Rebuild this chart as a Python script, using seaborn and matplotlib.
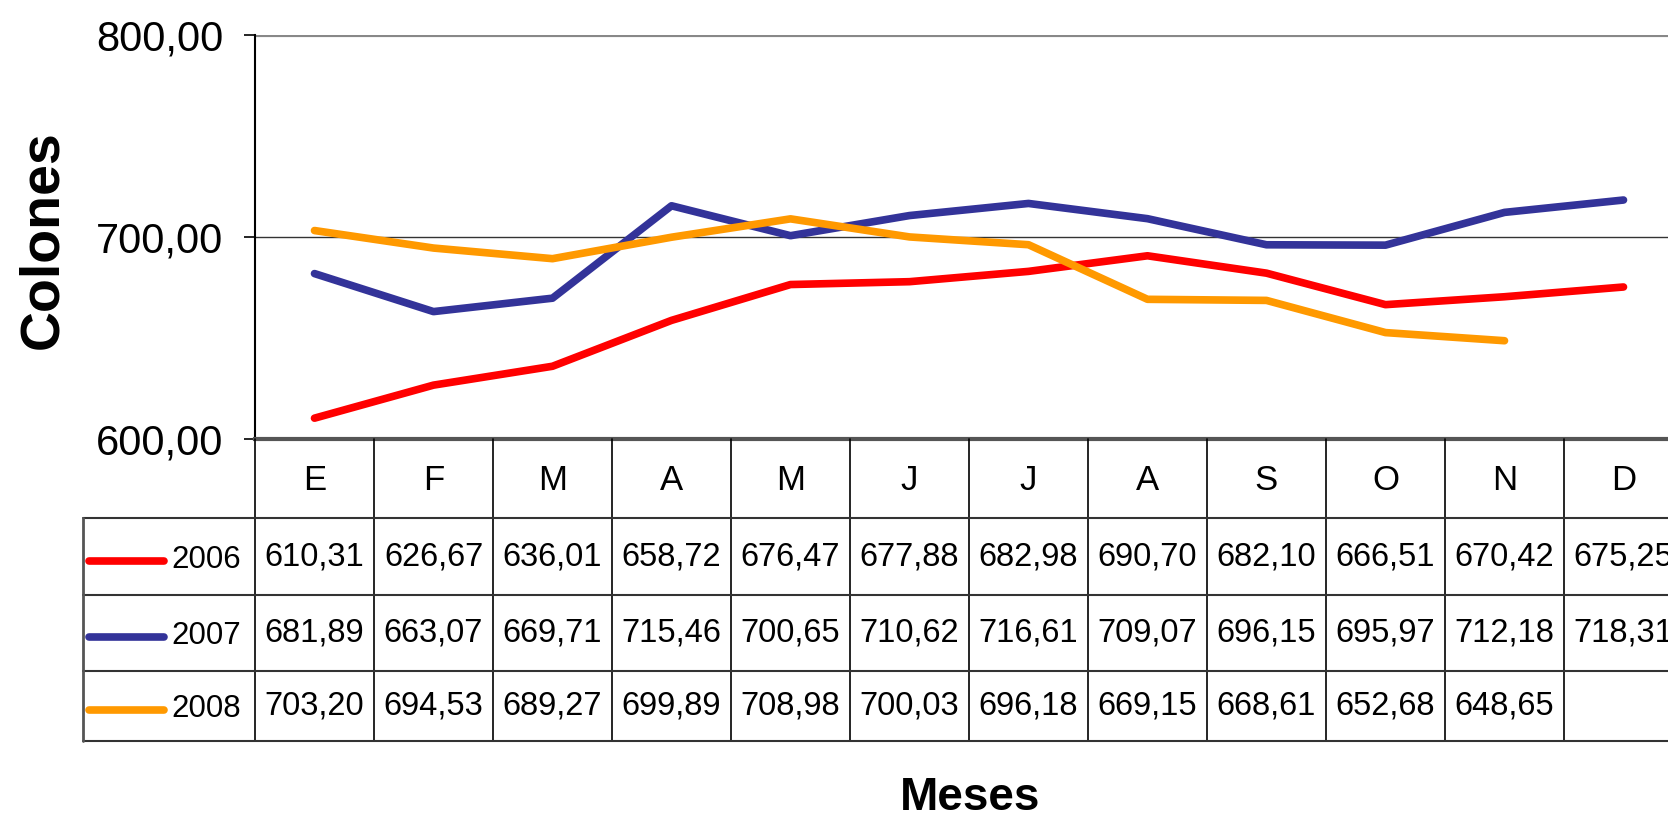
import pandas as pd
import matplotlib.pyplot as plt
import seaborn as sns

meses = ['E', 'F', 'M', 'A', 'M', 'J', 'J', 'A', 'S', 'O', 'N', 'D']
y2006 = [610.31, 626.67, 636.01, 658.72, 676.47, 677.88, 682.98, 690.70, 682.10, 666.51, 670.42, 675.25]
y2007 = [681.89, 663.07, 669.71, 715.46, 700.65, 710.62, 716.61, 709.07, 696.15, 695.97, 712.18, 718.31]
y2008 = [703.20, 694.53, 689.27, 699.89, 708.98, 700.03, 696.18, 669.15, 668.61, 652.68, 648.65, None]
years = ['2006', '2007', '2008']
colors = ['#FF0000', '#333399', '#FF9900']

rows = []
for yr, vals in zip(years, [y2006, y2007, y2008]):
    for i, v in enumerate(vals):
        if v is not None:
            rows.append({'pos': i, 'valor': v, 'anio': yr})
df = pd.DataFrame(rows)

sns.set_style('white')
plt.rcParams['font.family'] = ['Liberation Sans', 'DejaVu Sans']
plt.rcParams['text.color'] = 'black'

W, H = 1668, 821
fig = plt.figure(figsize=(W / 100, H / 100), dpi=100)

# main plot area (runs a bit past the right edge, like the original)
x0, x1, ytop, ybot = 255, 1683, 35, 439
ax = fig.add_axes([x0 / W, 1 - ybot / H, (x1 - x0) / W, (ybot - ytop) / H])
sns.lineplot(data=df, x='pos', y='valor', hue='anio', palette=dict(zip(years, colors)),
             linewidth=5.5, legend=False, ax=ax, solid_capstyle='round')
ax.set_xlim(-0.5, 11.5)
ax.set_ylim(600, 800)
ax.set_yticks([600, 700, 800])
ax.set_yticklabels([f'{t:.2f}'.replace('.', ',') for t in [600, 700, 800]], fontsize=30)
ax.set_xticks([])
ax.set_xlabel('')
ax.set_ylabel('')
ax.axhline(700, color='#333333', lw=1.0, zorder=0)
ax.axhline(800, color='#888888', lw=3.0, zorder=0)
ax.tick_params(axis='y', direction='out', length=8, width=1.2, pad=15, left=True,
               colors='black', labelcolor='black')
for s in ['top', 'right']:
    ax.spines[s].set_visible(False)
ax.spines['left'].set_color('black')
ax.spines['left'].set_linewidth(1.5)
ax.spines['bottom'].set_color('#555555')
ax.spines['bottom'].set_linewidth(3)

# data table below the plot
tl, tb = 83, 741
rb = [439, 518, 595, 671, 741]
colw = (x1 - x0) / 12
tx = fig.add_axes([tl / W, 1 - tb / H, (x1 - tl) / W, (tb - ybot) / H])
xl = -0.5 - (x0 - tl) / colw
tx.set_xlim(xl, 11.5)
tx.set_ylim(tb, ybot)
tx.axis('off')
for k in range(13):
    tx.plot([k - 0.5, k - 0.5], [rb[0], rb[-1]], color='black', lw=1.2, clip_on=False)
for yy in rb[1:]:
    tx.plot([xl, 11.5], [yy, yy], color='#333333', lw=1.5, clip_on=False)
tx.plot([xl, xl], [rb[1], rb[-1]], color='#555555', lw=2, clip_on=False)
for i, m in enumerate(meses):
    tx.text(i, (rb[0] + rb[1]) / 2 + 2, m, ha='center', va='center', fontsize=25)
for r, (yr, vals, c) in enumerate(zip(years, [y2006, y2007, y2008], colors)):
    yc = (rb[r + 1] + rb[r + 2]) / 2
    tx.plot([xl + 6 / colw, xl + 81 / colw], [yc + 4, yc + 4], color=c, lw=5.5,
            solid_capstyle='round', clip_on=False)
    tx.text(xl + 88 / colw, yc + 3, yr, ha='left', va='center', fontsize=22.5)
    for i, v in enumerate(vals):
        if v is not None:
            tx.text(i, yc, f'{v:.2f}'.replace('.', ','), ha='center', va='center', fontsize=23.5)

fig.text(970 / W, 1 - 798 / H, 'Meses', ha='center', va='center', fontsize=33,
         fontweight='bold')
fig.text(43 / W, 1 - 240 / H, 'Colones', ha='center', va='center', fontsize=40,
         fontweight='bold', rotation=90)

fig.savefig('out.png', dpi=100)
